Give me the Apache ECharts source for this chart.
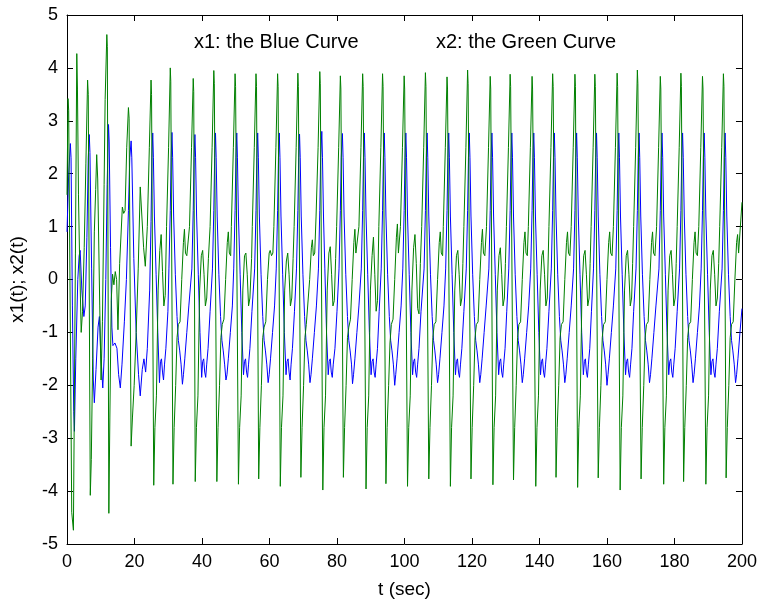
<!DOCTYPE html>
<html>
<head>
<meta charset="utf-8">
<script src="https://cdn.jsdelivr.net/npm/echarts@6/dist/echarts.min.js"></script>
<style>html,body{margin:0;padding:0;background:#fff;}#c{width:760px;height:604px;}</style>
</head>
<body>
<div id="c"></div>
<script>
// x1(t): the blue curve, [t, value] pairs
const x1Blue = [
[0,0.9],[0.5,2.0],[1.0,2.57],[1.2,2.3],[1.6,-0.5],[2.0,-2.5],[2.2,-2.87],[2.6,-1.5],[3.2,0.0],[3.6,0.45],[3.9,0.55],[4.4,-0.2],[5.0,-0.7],[5.4,-0.5],[5.9,0.8],[6.3,2.3],[6.6,2.74],[6.8,2.4],[7.3,0.2],[7.8,-1.9],[8.1,-2.33],[8.6,-1.7],[9.2,-0.9],[9.6,-0.7],[10.0,-1.4],[10.6,-2.05],[11.0,-1.5],[11.5,0.0],[11.9,1.8],[12.3,2.93],[12.5,2.6],[12.9,0.6],[13.3,-0.9],[13.6,-1.25],[14.2,-1.2],[14.8,-1.3],[15.3,-1.8],[15.8,-2.05],[16.3,-1.6],[17.0,-0.8],[17.6,0.0],[18.2,1.3],[18.6,2.3],[19.0,2.62],[19.2,2.3],[19.8,0.4],[20.5,-1.0],[21.2,-1.8],[21.7,-2.2],[22.3,-1.7],[22.8,-1.5],[23.3,-1.75],[23.8,-1.3],[24.5,-0.2],[24.9,1.1],[25.15,2.3],
[25.4,2.77],[25.6,2.3],[25.9,1.2],[26.4,0.1],[26.9,-1.0],[27.4,-1.95],[27.7,-1.55],[28.0,-1.5],[28.3,-1.75],[28.6,-1.9],[28.9,-1.6],[29.3,-1.3],[29.9,-0.6],[30.2,0.2],[30.6,1.3],[30.85,2.3],
[31.1,2.78],[31.3,2.3],[31.6,1.2],[32.1,0.1],[32.6,-0.7],[33.0,-1.15],[33.4,-1.35],[33.8,-1.6],[34.2,-1.98],[34.5,-1.8],[34.9,-1.5],[35.5,-1.0],[36.1,-0.5],[37.0,0.2],[37.4,1.3],[37.65,2.3],
[37.9,2.74],[38.1,2.3],[38.4,1.2],[38.9,0.1],[39.4,-1.0],[39.9,-1.85],[40.2,-1.55],[40.5,-1.5],[40.8,-1.75],[41.1,-1.85],[41.4,-1.6],[41.8,-1.3],[42.4,-0.6],[43.1,0.2],[43.5,1.3],[43.75,2.3],
[44.0,2.77],[44.2,2.3],[44.5,1.2],[45.0,0.1],[45.5,-0.7],[45.9,-1.15],[46.3,-1.35],[46.7,-1.6],[47.1,-1.9],[47.4,-1.8],[47.8,-1.5],[48.4,-1.0],[49.0,-0.5],[49.4,0.2],[49.8,1.3],[50.05,2.3],
[50.3,2.77],[50.5,2.3],[50.8,1.2],[51.3,0.1],[51.8,-1.0],[52.3,-1.8],[52.6,-1.55],[52.9,-1.5],[53.2,-1.75],[53.5,-1.85],[53.8,-1.6],[54.2,-1.3],[54.8,-0.6],[55.6,0.2],[56.0,1.3],[56.25,2.3],
[56.5,2.77],[56.7,2.3],[57.0,1.2],[57.5,0.1],[58.0,-0.7],[58.4,-1.15],[58.8,-1.35],[59.2,-1.6],[59.6,-1.95],[59.9,-1.8],[60.3,-1.5],[60.9,-1.0],[61.5,-0.5],[62.0,0.2],[62.4,1.3],[62.65,2.3],
[62.9,2.77],[63.1,2.3],[63.4,1.2],[63.9,0.1],[64.4,-1.0],[64.9,-1.8],[65.2,-1.55],[65.5,-1.5],[65.8,-1.75],[66.1,-1.9],[66.4,-1.6],[66.8,-1.3],[67.4,-0.6],[68.0,0.2],[68.4,1.3],[68.65,2.3],
[68.9,2.75],[69.1,2.3],[69.4,1.2],[69.9,0.1],[70.4,-0.7],[70.8,-1.15],[71.2,-1.35],[71.6,-1.6],[72.0,-1.95],[72.3,-1.8],[72.7,-1.5],[73.3,-1.0],[73.9,-0.5],[74.5,0.2],[74.9,1.3],[75.15,2.3],
[75.5,2.8],[75.7,2.3],[76.0,1.2],[76.4,0.2],[76.9,-1.0],[77.4,-1.8],[77.7,-1.55],[78.0,-1.5],[78.3,-1.75],[78.6,-1.85],[78.9,-1.6],[79.4,-1.3],[80.0,-0.6],[80.6,0.2],[81.0,1.3],[81.25,2.3],
[81.6,2.76],[81.8,2.3],[82.1,1.2],[82.6,0.1],[83.1,-0.7],[83.5,-1.15],[83.9,-1.35],[84.3,-1.6],[84.6,-1.97],[84.9,-1.8],[85.3,-1.5],[85.9,-1.0],[86.5,-0.5],[87.2,0.2],[87.6,1.3],[87.85,2.3],
[88.1,2.77],[88.3,2.3],[88.6,1.2],[89.1,0.1],[89.6,-1.0],[90.1,-1.8],[90.4,-1.55],[90.7,-1.5],[91.0,-1.75],[91.3,-1.85],[91.6,-1.6],[92.0,-1.3],[92.5,-0.6],[93.1,0.2],[93.5,1.3],[93.75,2.3],
[94.0,2.77],[94.2,2.3],[94.5,1.2],[95.0,0.1],[95.5,-0.7],[95.9,-1.15],[96.3,-1.35],[96.7,-1.6],[97.1,-2.0],[97.4,-1.8],[97.8,-1.5],[98.4,-1.0],[99.0,-0.5],[99.5,0.2],[99.9,1.3],[100.15,2.3],
[100.4,2.77],[100.6,2.3],[100.9,1.2],[101.4,0.1],[101.9,-1.0],[102.4,-1.8],[102.7,-1.55],[103.0,-1.5],[103.3,-1.75],[103.6,-1.85],[103.9,-1.6],[104.3,-1.3],[104.9,-0.6],[105.8,0.2],[106.2,1.3],[106.45,2.3],
[106.7,2.77],[106.9,2.3],[107.2,1.2],[107.7,0.1],[108.2,-0.7],[108.6,-1.15],[109.0,-1.35],[109.4,-1.6],[109.8,-1.95],[110.1,-1.8],[110.5,-1.5],[111.1,-1.0],[111.7,-0.5],[112.2,0.2],[112.6,1.3],[112.85,2.3],
[113.1,2.77],[113.3,2.3],[113.6,1.2],[114.1,0.1],[114.6,-1.0],[115.1,-1.8],[115.4,-1.55],[115.7,-1.5],[116.0,-1.75],[116.3,-1.85],[116.6,-1.6],[117.0,-1.3],[117.6,-0.6],[118.3,0.2],[118.7,1.3],[118.95,2.3],
[119.2,2.77],[119.4,2.3],[119.7,1.2],[120.2,0.1],[120.7,-0.7],[121.1,-1.15],[121.5,-1.35],[121.9,-1.6],[122.3,-1.95],[122.6,-1.8],[123.0,-1.5],[123.6,-1.0],[124.2,-0.5],[125.0,0.2],[125.4,1.3],[125.65,2.3],
[125.9,2.77],[126.1,2.3],[126.4,1.2],[126.9,0.1],[127.4,-1.0],[127.9,-1.8],[128.2,-1.55],[128.5,-1.5],[128.8,-1.75],[129.1,-1.85],[129.4,-1.6],[129.8,-1.3],[130.3,-0.6],[130.9,0.2],[131.3,1.3],[131.55,2.3],
[131.8,2.77],[132.0,2.3],[132.3,1.2],[132.8,0.1],[133.3,-0.7],[133.7,-1.15],[134.1,-1.35],[134.5,-1.6],[134.9,-1.95],[135.2,-1.8],[135.6,-1.5],[136.2,-1.0],[136.8,-0.5],[137.4,0.2],[137.8,1.3],[138.05,2.3],
[138.3,2.77],[138.5,2.3],[138.8,1.2],[139.3,0.1],[139.8,-1.0],[140.3,-1.8],[140.6,-1.55],[140.9,-1.5],[141.2,-1.75],[141.5,-1.85],[141.8,-1.6],[142.2,-1.3],[142.8,-0.6],[143.5,0.2],[143.9,1.3],[144.15,2.3],
[144.4,2.77],[144.6,2.3],[144.9,1.2],[145.4,0.1],[145.9,-0.7],[146.3,-1.15],[146.7,-1.35],[147.1,-1.6],[147.5,-1.95],[147.8,-1.8],[148.2,-1.5],[148.8,-1.0],[149.4,-0.5],[150.1,0.2],[150.5,1.3],[150.75,2.3],
[151.0,2.77],[151.2,2.3],[151.5,1.2],[152.0,0.1],[152.5,-1.0],[153.0,-1.8],[153.3,-1.55],[153.6,-1.5],[153.9,-1.75],[154.2,-1.85],[154.5,-1.6],[154.9,-1.3],[155.4,-0.6],[156.0,0.2],[156.4,1.3],[156.65,2.3],
[156.9,2.77],[157.1,2.3],[157.4,1.2],[157.9,0.1],[158.4,-0.7],[158.8,-1.15],[159.2,-1.35],[159.6,-1.6],[160.0,-2.0],[160.3,-1.8],[160.7,-1.5],[161.3,-1.0],[161.9,-0.5],[162.6,0.2],[163.0,1.3],[163.25,2.3],
[163.5,2.77],[163.7,2.3],[164.0,1.2],[164.5,0.1],[165.0,-1.0],[165.5,-1.8],[165.8,-1.55],[166.1,-1.5],[166.4,-1.75],[166.7,-1.85],[167.0,-1.6],[167.4,-1.3],[167.9,-0.6],[168.6,0.2],[169.0,1.3],[169.25,2.3],
[169.5,2.77],[169.7,2.3],[170.0,1.2],[170.5,0.1],[171.0,-0.7],[171.4,-1.15],[171.8,-1.35],[172.2,-1.6],[172.6,-1.95],[172.9,-1.8],[173.3,-1.5],[173.9,-1.0],[174.5,-0.5],[175.4,0.2],[175.8,1.3],[176.05,2.3],
[176.3,2.77],[176.5,2.3],[176.8,1.2],[177.3,0.1],[177.8,-1.0],[178.3,-1.8],[178.6,-1.55],[178.9,-1.5],[179.2,-1.75],[179.5,-1.85],[179.8,-1.6],[180.2,-1.3],[180.8,-0.6],[181.5,0.2],[181.9,1.3],[182.15,2.3],
[182.4,2.77],[182.6,2.3],[182.9,1.2],[183.4,0.1],[183.9,-0.7],[184.3,-1.15],[184.7,-1.35],[185.1,-1.6],[185.5,-1.95],[185.8,-1.8],[186.2,-1.5],[186.8,-1.0],[187.4,-0.5],[187.9,0.2],[188.3,1.3],[188.55,2.3],
[188.8,2.77],[189.0,2.3],[189.3,1.2],[189.8,0.1],[190.3,-1.0],[190.8,-1.8],[191.1,-1.55],[191.4,-1.5],[191.7,-1.75],[192.0,-1.85],[192.3,-1.6],[192.7,-1.3],[193.3,-0.6],[194.1,0.2],[194.5,1.3],[194.75,2.3],
[195.0,2.77],[195.2,2.3],[195.5,1.2],[196.0,0.1],[196.5,-0.7],[196.9,-1.15],[197.3,-1.35],[197.7,-1.6],[198.1,-1.95],[198.4,-1.8],[198.8,-1.5],[199.4,-1.0],[200.0,-0.55]
];

// x2(t): the green curve, [t, value] pairs
const x2Green = [
[0,1.6],[0.3,3.42],[0.5,3.2],[1.4,-4.4],[1.9,-4.74],[2.5,0.5],[2.9,4.27],[3.1,3.6],[3.4,1.6],[3.7,0.5],[4.2,-1.0],[4.6,-0.6],[5.1,0.6],[5.6,2.2],[6.1,3.77],[6.3,3.5],[6.9,-4.08],[7.2,-3.4],[7.6,-1.5],[8.1,0.9],[8.5,1.7],[8.8,2.36],[9.1,1.9],[9.7,-0.5],[10.1,-1.9],[10.5,-0.8],[11.0,1.8],[11.3,3.4],[11.8,4.63],[11.95,4.4],[12.4,-4.42],[12.7,-2.6],[13.1,-0.4],[13.5,0.1],[13.9,-0.1],[14.3,0.15],[14.7,0.0],[15.1,-0.95],[15.6,0.3],[16.4,1.37],[16.8,1.25],[17.2,1.3],[17.7,2.5],[18.2,3.25],[18.4,3.05],[19.0,-3.15],[19.4,-2.6],[19.9,-2.0],[20.5,-1.0],[21.1,0.2],[21.7,1.75],[22.2,1.72],[22.7,0.6],[23.2,0.25],[23.8,1.0],[24.4,2.5],
[24.9,3.77],[25.05,3.5],[25.7,-3.89],[26.05,-2.8],[26.5,-2.2],[27.0,-0.2],[27.5,0.55],[27.9,0.85],[28.3,0.15],[28.7,-0.5],[29.1,-0.3],[29.5,1.0],[30.1,2.5],
[30.6,4.0],[30.75,3.75],[31.4,-3.87],[31.75,-2.8],[32.2,-2.0],[32.6,-1.1],[33.0,-0.85],[33.5,-0.8],[34.0,0.0],[34.5,0.7],[34.8,0.95],[35.1,0.5],[35.5,0.45],[36.3,1.0],[36.9,2.5],
[37.4,3.8],[37.55,3.55],[38.0,-3.82],[38.35,-2.8],[38.8,-2.2],[39.3,-0.2],[39.8,0.45],[40.2,0.55],[40.6,0.1],[41.0,-0.5],[41.4,-0.35],[41.9,0.4],[42.4,1.0],[43.0,2.5],
[43.5,3.95],[43.65,3.7],[44.4,-3.82],[44.75,-2.8],[45.2,-2.0],[45.6,-1.1],[46.0,-0.85],[46.5,-0.75],[47.0,0.0],[47.5,0.7],[47.8,0.9],[48.1,0.5],[48.5,0.45],[48.7,1.0],[49.3,2.5],
[49.8,3.89],[49.95,3.65],[50.8,-3.87],[51.15,-2.8],[51.6,-2.2],[52.1,-0.2],[52.6,0.45],[53.0,0.5],[53.4,0.1],[53.8,-0.5],[54.2,-0.35],[54.7,0.4],[54.9,1.0],[55.5,2.5],
[56.0,3.89],[56.15,3.65],[56.8,-3.77],[57.15,-2.8],[57.6,-2.0],[58.0,-1.1],[58.4,-0.9],[58.9,-0.8],[59.4,0.0],[59.9,0.5],[60.2,0.55],[60.6,0.45],[61.0,0.5],[61.3,1.0],[61.9,2.5],
[62.4,3.89],[62.55,3.65],[63.2,-3.91],[63.55,-2.8],[64.0,-2.2],[64.5,-0.2],[65.0,0.35],[65.4,0.5],[65.8,0.1],[66.2,-0.5],[66.6,-0.35],[67.0,0.4],[67.3,1.0],[67.9,2.5],
[68.4,3.9],[68.55,3.65],[69.3,-3.74],[69.65,-2.8],[70.1,-2.0],[70.5,-1.1],[70.9,-0.85],[71.4,-0.85],[71.9,0.0],[72.4,0.6],[72.7,0.75],[73.0,0.45],[73.4,0.5],[73.8,1.2],[74.4,2.5],
[74.9,3.93],[75.05,3.7],[75.8,-3.98],[76.15,-2.8],[76.6,-2.2],[77.1,-0.2],[77.6,0.5],[78.0,0.62],[78.4,0.1],[78.8,-0.5],[79.2,-0.4],[79.6,0.4],[79.9,1.0],[80.5,2.5],
[81.0,3.85],[81.15,3.6],[81.9,-3.74],[82.25,-2.8],[82.7,-2.0],[83.1,-1.1],[83.5,-0.9],[84.0,-0.75],[84.5,0.0],[85.0,0.7],[85.3,0.95],[85.6,0.5],[86.0,0.47],[86.5,1.0],[87.1,2.5],
[87.6,3.89],[87.75,3.65],[88.6,-3.96],[88.95,-2.8],[89.4,-2.2],[89.9,-0.2],[90.4,0.45],[90.8,0.8],[91.2,0.1],[91.6,-0.6],[92.0,-0.4],[92.4,1.0],[93.0,2.5],
[93.5,3.89],[93.65,3.65],[94.5,-3.86],[94.85,-2.8],[95.3,-2.0],[95.7,-1.2],[96.1,-0.85],[96.6,-0.75],[97.1,0.0],[97.6,0.8],[97.9,1.05],[98.2,0.5],[98.6,0.5],[98.8,1.0],[99.4,2.5],
[99.9,3.85],[100.05,3.6],[100.9,-3.91],[101.25,-2.8],[101.7,-2.2],[102.2,-0.2],[102.7,0.6],[103.1,0.85],[103.5,0.3],[103.9,-0.55],[104.3,-0.65],[104.7,0.3],[105.1,1.0],[105.7,2.5],
[106.2,3.91],[106.35,3.65],[107.2,-3.77],[107.55,-2.8],[108.0,-2.0],[108.4,-1.1],[108.8,-0.85],[109.3,-0.8],[109.8,0.0],[110.3,0.7],[110.6,0.9],[110.9,0.5],[111.3,0.45],[111.5,1.0],[112.1,2.5],
[112.6,3.83],[112.75,3.6],[113.6,-3.91],[113.95,-2.8],[114.4,-2.2],[114.9,-0.2],[115.4,0.45],[115.8,0.55],[116.2,0.1],[116.6,-0.5],[117.0,-0.35],[117.3,0.3],[117.6,1.0],[118.2,2.5],
[118.7,3.96],[118.85,3.7],[119.7,-3.77],[120.05,-2.8],[120.5,-2.0],[120.9,-1.1],[121.3,-0.85],[121.8,-0.8],[122.3,0.0],[122.8,0.7],[123.1,0.95],[123.4,0.5],[123.8,0.45],[124.3,1.0],[124.9,2.5],
[125.4,3.84],[125.55,3.6],[126.2,-3.88],[126.55,-2.8],[127.0,-2.2],[127.5,-0.2],[128.0,0.45],[128.4,0.6],[128.8,0.1],[129.2,-0.5],[129.6,-0.35],[129.9,0.3],[130.2,1.0],[130.8,2.5],
[131.3,3.88],[131.45,3.65],[132.3,-3.79],[132.65,-2.8],[133.1,-2.0],[133.5,-1.1],[133.9,-0.85],[134.4,-0.8],[134.9,0.0],[135.4,0.7],[135.7,0.9],[136.0,0.5],[136.4,0.45],[136.7,1.0],[137.3,2.5],
[137.8,3.84],[137.95,3.6],[138.9,-3.91],[139.25,-2.8],[139.7,-2.2],[140.2,-0.2],[140.7,0.45],[141.1,0.55],[141.5,0.1],[141.9,-0.5],[142.3,-0.35],[142.8,1.0],[143.4,2.5],
[143.9,3.89],[144.05,3.65],[144.9,-3.74],[145.25,-2.8],[145.7,-2.0],[146.1,-1.1],[146.5,-0.85],[147.0,-0.8],[147.5,0.0],[148.0,0.7],[148.3,0.9],[148.6,0.5],[149.0,0.45],[149.4,1.0],[150.0,2.5],
[150.5,3.88],[150.65,3.65],[151.3,-3.93],[151.65,-2.8],[152.1,-2.2],[152.6,-0.2],[153.1,0.45],[153.5,0.55],[153.9,0.1],[154.3,-0.5],[154.7,-0.35],[155.0,0.3],[155.3,1.0],[155.9,2.5],
[156.4,3.88],[156.55,3.65],[157.4,-3.75],[157.75,-2.8],[158.2,-2.0],[158.6,-1.1],[159.0,-0.85],[159.5,-0.8],[160.0,0.0],[160.5,0.7],[160.8,0.9],[161.1,0.5],[161.5,0.45],[161.9,1.0],[162.5,2.5],
[163.0,3.9],[163.15,3.65],[163.9,-3.98],[164.25,-2.8],[164.7,-2.2],[165.2,-0.2],[165.7,0.45],[166.1,0.55],[166.5,0.1],[166.9,-0.5],[167.3,-0.35],[167.6,0.3],[167.9,1.0],[168.5,2.5],
[169.0,3.96],[169.15,3.7],[170.1,-3.77],[170.45,-2.8],[170.9,-2.0],[171.3,-1.1],[171.7,-0.85],[172.2,-0.8],[172.7,0.0],[173.2,0.7],[173.5,0.9],[173.8,0.5],[174.2,0.45],[174.7,1.0],[175.3,2.5],
[175.8,3.84],[175.95,3.6],[176.8,-3.87],[177.15,-2.8],[177.6,-2.2],[178.1,-0.2],[178.6,0.45],[179.0,0.55],[179.4,0.1],[179.8,-0.5],[180.2,-0.35],[180.5,0.3],[180.8,1.0],[181.4,2.5],
[181.9,3.9],[182.05,3.65],[182.7,-3.82],[183.05,-2.8],[183.5,-2.0],[183.9,-1.1],[184.3,-0.85],[184.8,-0.8],[185.3,0.0],[185.8,0.7],[186.1,0.9],[186.4,0.5],[186.8,0.45],[187.2,1.0],[187.8,2.5],
[188.3,3.84],[188.45,3.6],[189.3,-3.87],[189.65,-2.8],[190.1,-2.2],[190.6,-0.2],[191.1,0.45],[191.5,0.55],[191.9,0.1],[192.3,-0.5],[192.7,-0.35],[193.1,0.3],[193.4,1.0],[194.0,2.5],
[194.5,3.89],[194.65,3.65],[195.3,-3.75],[195.65,-2.8],[196.1,-2.0],[196.5,-1.1],[196.9,-0.85],[197.4,-0.8],[197.9,0.0],[198.4,0.7],[198.7,0.85],[199.0,0.5],[199.4,0.5],[200.0,1.46]
];

const xRange = [0, 200];
const xStep = 20;
const yRange = [-5, 5];
const yStep = 1;
const xLabelText = 't (sec)';
const yLabelText = 'x1(t); x2(t)';
const noteBlue = 'x1: the Blue Curve';
const noteGreen = 'x2: the Green Curve';

const chart = echarts.init(document.getElementById('c'), null, {renderer: 'canvas'});
const FONT = 'Liberation Sans, Arial, Helvetica, sans-serif';
const tickStyle = {show: true, inside: true, length: 6, lineStyle: {color: '#000', width: 1}};
const lineStyle = {show: true, onZero: false, lineStyle: {color: '#000', width: 1}};

const option = {
  animation: false,
  backgroundColor: '#ffffff',
  grid: {left: 66, right: 18, top: 15, bottom: 57, containLabel: false},
  xAxis: [
    {type: 'value', min: xRange[0], max: xRange[1], interval: xStep, position: 'bottom',
     axisLine: lineStyle, axisTick: tickStyle, splitLine: {show: false},
     axisLabel: {color: '#000', fontSize: 18, fontFamily: FONT, margin: 9},
     name: xLabelText, nameLocation: 'middle', nameGap: 36,
     nameTextStyle: {color: '#000', fontSize: 19, fontFamily: FONT}},
    {type: 'value', min: xRange[0], max: xRange[1], interval: xStep, position: 'top',
     axisLine: lineStyle, axisTick: tickStyle, splitLine: {show: false}, axisLabel: {show: false}}
  ],
  yAxis: [
    {type: 'value', min: yRange[0], max: yRange[1], interval: yStep, position: 'left',
     axisLine: lineStyle, axisTick: tickStyle, splitLine: {show: false},
     axisLabel: {color: '#000', fontSize: 18, fontFamily: FONT, margin: 9},
     name: yLabelText, nameLocation: 'middle', nameGap: 40, nameRotate: 90,
     nameTextStyle: {color: '#000', fontSize: 19, fontFamily: FONT}},
    {type: 'value', min: yRange[0], max: yRange[1], interval: yStep, position: 'right',
     axisLine: lineStyle, axisTick: tickStyle, splitLine: {show: false}, axisLabel: {show: false}}
  ],
  series: [
    {name: 'x1', type: 'line', data: x1Blue, showSymbol: false, symbol: 'none',
     lineStyle: {color: '#0000ff', width: 1}, itemStyle: {color: '#0000ff'}, smooth: false, z: 2},
    {name: 'x2', type: 'line', data: x2Green, showSymbol: false, symbol: 'none',
     lineStyle: {color: '#008000', width: 1}, itemStyle: {color: '#008000'}, smooth: false, z: 3}
  ],
  graphic: [
    {type: 'text', left: 194, top: 32, style: {text: noteBlue, fill: '#000', font: '20px ' + FONT}},
    {type: 'text', left: 436, top: 32, style: {text: noteGreen, fill: '#000', font: '20px ' + FONT}}
  ]
};
chart.setOption(option);
</script>
</body>
</html>
